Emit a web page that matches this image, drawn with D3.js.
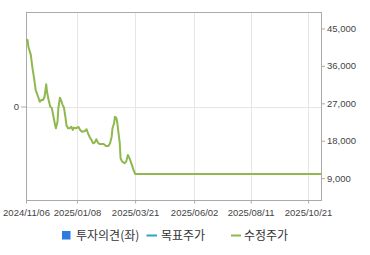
<!DOCTYPE html>
<html>
<head>
<meta charset="utf-8">
<script src="https://cdn.jsdelivr.net/npm/d3@7"></script>
<style>
  body { margin: 0; background: #fff; }
  svg { display: block; }
</style>
</head>
<body>
<svg id="chart" width="370" height="255"></svg>
<script>
const dates = [
  "2024-11-06","2024-11-08","2024-11-09","2024-11-12","2024-11-14","2024-11-16","2024-11-18","2024-11-21","2024-11-23","2024-11-25",
  "2024-11-27","2024-11-29","2024-12-01","2024-12-02","2024-12-04","2024-12-06","2024-12-08","2024-12-10","2024-12-12","2024-12-13",
  "2024-12-15","2024-12-16","2024-12-18","2024-12-20","2024-12-21","2024-12-23","2024-12-25","2024-12-26","2024-12-28","2024-12-30",
  "2025-01-01","2025-01-03","2025-01-04","2025-01-07","2025-01-08","2025-01-10","2025-01-12","2025-01-14","2025-01-18","2025-01-20",
  "2025-01-22","2025-01-24","2025-01-26","2025-01-28","2025-01-30","2025-02-01","2025-02-03","2025-02-05","2025-02-10","2025-02-13",
  "2025-02-16","2025-02-18","2025-02-20","2025-02-21","2025-02-23","2025-02-24","2025-02-26","2025-02-27","2025-02-28","2025-03-02",
  "2025-03-03","2025-03-05","2025-03-08","2025-03-10","2025-03-12","2025-03-14","2025-03-17","2025-03-19","2025-03-21","2025-11-06"
];
const prices = [
  42400,42190,40580,38590,35470,33070,30190,28580,27380,27790,
  27790,28580,31560,29780,27790,26180,25870,23780,21790,21000,
  22580,25800,28340,27380,26760,25940,23400,21790,21000,21000,
  21380,20590,21140,21000,21140,21310,20590,20180,20350,20760,
  19630,18840,18190,17400,17540,18360,17540,17230,17230,16750,
  16750,17400,18980,21000,22200,23780,23400,22200,20590,17400,
  13800,12980,12600,12980,14590,13800,12190,10990,10030,10030
];
const xTickLabels = ["2024/11/06","2025/01/08","2025/03/21","2025/06/02","2025/08/11","2025/10/21"];
const yRightTicks = [9000,18000,27000,36000,45000];
const yLeftTicks = [0];
const legendLabels = ["투자의견(좌)","목표주가","수정주가"];

const parse = d3.timeParse("%Y-%m-%d");
const parseTick = d3.timeParse("%Y/%m/%d");
const data = dates.map((d,i)=>({date: parse(d), value: prices[i]}));

const svg = d3.select("#chart");
const L = 26, R = 321, T = 12.5, B = 200.5;

const x = d3.scaleTime().domain([parse("2024-11-06"), parse("2025-11-06")]).range([L, R]);
const yR = d3.scaleLinear().domain([3630, 48840]).range([B, T]);
const yL = d3.scaleLinear().domain([-1, 1]).range([B, T]);

const tickDates = xTickLabels.map(parseTick);
const grid = "#e6e6e6", axisCol = "#aaaaaa", textCol = "#444";
const font = "'Liberation Sans', Arial, sans-serif";

// vertical gridlines
svg.append("g").selectAll("line").data(tickDates.slice(1)).join("line")
  .attr("x1", d=>Math.round(x(d))+0.5).attr("x2", d=>Math.round(x(d))+0.5)
  .attr("y1", T).attr("y2", B).attr("stroke", grid).attr("stroke-width", 1);
// horizontal gridline at left 0
svg.append("g").selectAll("line").data(yLeftTicks).join("line")
  .attr("x1", L).attr("x2", R).attr("y1", d=>Math.round(yL(d))+0.5).attr("y2", d=>Math.round(yL(d))+0.5)
  .attr("stroke", grid).attr("stroke-width", 1);

// frame
svg.append("rect").attr("x", L+0.5).attr("y", T).attr("width", R-L).attr("height", B-T)
  .attr("fill", "none").attr("stroke", axisCol).attr("stroke-width", 1);

// axes
const xAxis = svg.append("g").attr("transform", `translate(0,${B})`)
  .call(d3.axisBottom(x).tickValues(tickDates).tickFormat(d3.timeFormat("%Y/%m/%d")).tickSize(3).tickSizeOuter(0));
const rAxis = svg.append("g").attr("transform", `translate(${R},0)`)
  .call(d3.axisRight(yR).tickValues(yRightTicks).tickFormat(d3.format(",")).tickSize(4).tickSizeOuter(0));
const lAxis = svg.append("g").attr("transform", `translate(${L},0)`)
  .call(d3.axisLeft(yL).tickValues(yLeftTicks).tickFormat(d3.format("d")).tickSize(5).tickSizeOuter(0));
[xAxis, rAxis, lAxis].forEach(g => {
  g.select(".domain").remove();
  g.selectAll(".tick line").attr("stroke", axisCol);
  g.selectAll(".tick text").attr("fill", textCol).attr("font-family", font).attr("font-size", "9.5px");
});
xAxis.selectAll(".tick text").attr("dy", "0.71em").attr("y", 9);
rAxis.selectAll(".tick text").attr("x", 6);
lAxis.selectAll(".tick text").attr("x", -7);

// price line
const line = d3.line().x(d=>x(d.date)).y(d=>yR(d.value));
svg.append("path").datum(data).attr("d", line)
  .attr("fill", "none").attr("stroke", "#8fb94f").attr("stroke-width", 2).attr("stroke-linejoin", "round");

// legend
const lg = svg.append("g").attr("font-family", "'Noto Sans CJK KR', sans-serif").attr("font-size", "12px").attr("fill", "#333");
lg.append("rect").attr("x", 62).attr("y", 231).attr("width", 8.5).attr("height", 8.5).attr("fill", "#2f7ae0");
lg.append("text").attr("x", 76).attr("y", 240).text(legendLabels[0]);
lg.append("line").attr("x1", 146.5).attr("x2", 157).attr("y1", 235.5).attr("y2", 235.5).attr("stroke", "#26a9be").attr("stroke-width", 2);
lg.append("text").attr("x", 161).attr("y", 240).text(legendLabels[1]);
lg.append("line").attr("x1", 231).attr("x2", 241).attr("y1", 235.5).attr("y2", 235.5).attr("stroke", "#8fb94f").attr("stroke-width", 2);
lg.append("text").attr("x", 244).attr("y", 240).text(legendLabels[2]);
</script>
</body>
</html>
